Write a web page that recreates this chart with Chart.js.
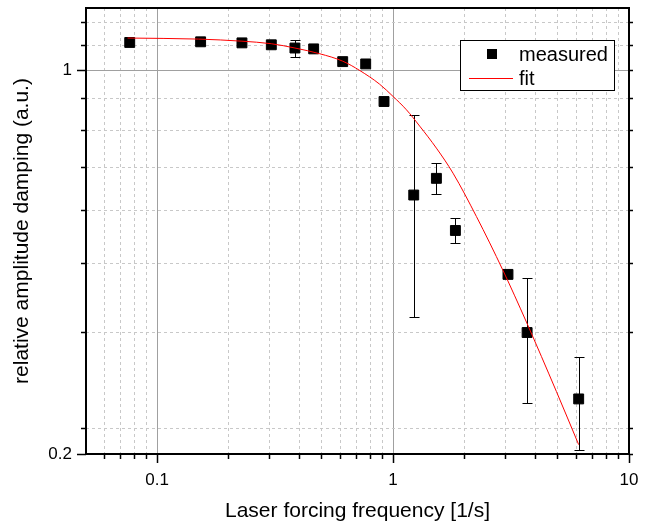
<!DOCTYPE html>
<html>
<head>
<meta charset="utf-8">
<script src="https://cdn.jsdelivr.net/npm/chart.js@4/dist/chart.umd.min.js"></script>
<style>
  html, body { margin: 0; padding: 0; background: #fff; }
</style>
</head>
<body>
<canvas id="graphe" width="651" height="527"></canvas>
<script>
// Points mesurés (fréquence en 1/s, amplitude relative, barre d'erreur)
const frequences = [0.0766, 0.153, 0.229, 0.305, 0.384, 0.461, 0.612, 0.766, 0.916, 1.224, 1.527, 1.838, 3.07, 3.70, 6.12];
const amplitudes = [1.125, 1.128, 1.123, 1.114, 1.099, 1.095, 1.038, 1.028, 0.878, 0.593, 0.636, 0.511, 0.425, 0.333, 0.252];
const erreurs = [0, 0, 0, 0, 0.04, 0, 0, 0, 0, 0.237, 0.041, 0.027, 0, 0.085, 0.049];

// Courbe d'ajustement
const fitFreq = [0.075, 0.15, 0.229, 0.305, 0.384, 0.489, 0.612, 0.723, 0.878, 1.0, 1.14, 1.297, 1.527, 1.796, 2.256, 2.925, 3.675, 4.924, 6.12];
const fitAmp = [1.146, 1.141, 1.131, 1.119, 1.099, 1.073, 1.040, 1.000, 0.944, 0.897, 0.848, 0.792, 0.722, 0.650, 0.542, 0.432, 0.348, 0.260, 0.208];

// Graduations
const xMajeurs = [0.1, 1, 10];
const xMineurs = [0.06, 0.07, 0.08, 0.09, 0.2, 0.3, 0.4, 0.5, 0.6, 0.7, 0.8, 0.9, 2, 3, 4, 5, 6, 7, 8, 9];
const yMajeurs = [0.2, 1];
const yMineurs = [0.2222, 0.3333, 0.4444, 0.5556, 0.6667, 0.7778, 0.8889, 1.1111, 1.2222];

const police = "'Liberation Sans', Arial, sans-serif";

function fixeTicks(valeurs) {
    return function (scale) {
        scale.ticks = valeurs.map(v => ({ value: v }));
    };
}

// taille imposée des axes, sans marge de débordement des étiquettes
function taille(prop, val) {
    return function (s) {
        s[prop] = val;
        s.paddingTop = 0; s.paddingBottom = 0; s.paddingLeft = 0; s.paddingRight = 0;
    };
}

// barres d'erreur, cadre et légende
const decor = {
    id: 'decor',
    beforeDatasetsDraw(chart) {
        const { ctx, scales: { x, y } } = chart;
        ctx.save();
        ctx.strokeStyle = '#000';
        ctx.lineWidth = 1;
        frequences.forEach((f, i) => {
            if (!erreurs[i]) return;
            const px = Math.round(x.getPixelForValue(f)) + 0.5;
            const haut = Math.round(y.getPixelForValue(amplitudes[i] + erreurs[i])) + 0.5;
            const bas = Math.round(y.getPixelForValue(amplitudes[i] - erreurs[i])) + 0.5;
            ctx.beginPath();
            ctx.moveTo(px, haut); ctx.lineTo(px, bas);
            ctx.moveTo(px - 5, haut); ctx.lineTo(px + 5, haut);
            ctx.moveTo(px - 5, bas); ctx.lineTo(px + 5, bas);
            ctx.stroke();
        });
        ctx.restore();
    },
    afterDraw(chart) {
        const { ctx, chartArea: a } = chart;
        ctx.save();
        ctx.strokeStyle = '#000';
        ctx.lineWidth = 2;
        ctx.strokeRect(a.left, a.top, a.right - a.left, a.bottom - a.top);

        // légende
        ctx.lineWidth = 1;
        ctx.fillStyle = '#fff';
        ctx.fillRect(460.5, 40.5, 154, 50);
        ctx.strokeRect(460.5, 40.5, 154, 50);
        ctx.font = '20px ' + police;
        ctx.textBaseline = 'middle';
        const ds = chart.data.datasets;
        ctx.fillStyle = '#000';
        ctx.fillRect(487, 49, 10, 10);
        ctx.fillText(ds[0].label, 519, 55);
        ctx.strokeStyle = 'red';
        ctx.beginPath();
        ctx.moveTo(469, 78.5); ctx.lineTo(513, 78.5);
        ctx.stroke();
        ctx.fillStyle = '#000';
        ctx.fillText(ds[1].label, 519, 79);
        ctx.restore();
    }
};

let ctx = document.getElementById('graphe').getContext('2d');
let chart = new Chart(ctx, {
    type: 'scatter',
    data: {
        datasets: [{
            label: 'measured',
            data: frequences.map((f, i) => ({ x: f, y: amplitudes[i] })),
            pointStyle: 'rect',
            pointRadius: 7,
            pointHoverRadius: 7,
            backgroundColor: '#000',
            borderColor: '#000',
            borderWidth: 1,
            order: 1
        }, {
            label: 'fit',
            type: 'line',
            data: fitFreq.map((f, i) => ({ x: f, y: fitAmp[i] })),
            borderColor: 'red',
            borderWidth: 1,
            pointRadius: 0,
            fill: false,
            cubicInterpolationMode: 'monotone',
            order: 0
        }]
    },
    options: {
        responsive: false,
        animation: false,
        devicePixelRatio: 1,
        layout: { padding: { top: 8, left: 0, right: 0, bottom: 0 } },
        plugins: { legend: { display: false }, tooltip: { enabled: false } },
        scales: {
            x: {
                type: 'logarithmic', position: 'bottom', min: 0.05, max: 10, weight: 1,
                afterBuildTicks: fixeTicks(xMajeurs),
                afterFit: taille('height', 73),
                grid: { color: '#a0a0a0', lineWidth: 1, tickLength: 9, tickColor: '#000', tickWidth: 1.5 },
                border: { display: false },
                ticks: { autoSkip: false, maxRotation: 0, padding: 7, color: '#000',
                    font: { family: police, size: 17 }, callback: v => String(v) },
                title: { display: true, text: 'Laser forcing frequency [1/s]', color: '#000',
                    font: { family: police, size: 21 }, padding: { top: 0, bottom: 3 } }
            },
            xm: {
                type: 'logarithmic', position: 'bottom', min: 0.05, max: 10, weight: 0,
                afterBuildTicks: fixeTicks(xMineurs),
                afterFit: taille('height', 0),
                grid: { color: '#c8c8c8', lineWidth: 1, tickLength: 5, tickColor: '#000', tickWidth: 1.5 },
                border: { display: false, dash: [3, 3] },
                ticks: { display: false }
            },
            y: {
                type: 'logarithmic', position: 'left', min: 0.2, max: 1.3, weight: 1,
                afterBuildTicks: fixeTicks(yMajeurs),
                afterFit: taille('width', 86),
                grid: { color: '#a0a0a0', lineWidth: 1, tickLength: 9, tickColor: '#000', tickWidth: 1.5 },
                border: { display: false },
                ticks: { autoSkip: false, padding: 5, color: '#000',
                    font: { family: police, size: 17 }, callback: v => String(v) },
                title: { display: true, text: 'relative amplitude damping (a.u.)', color: '#000',
                    font: { family: police, size: 21 }, padding: { top: 10, bottom: 0 } }
            },
            ym: {
                type: 'logarithmic', position: 'left', min: 0.2, max: 1.3, weight: 0,
                afterBuildTicks: fixeTicks(yMineurs),
                afterFit: taille('width', 0),
                grid: { color: '#c8c8c8', lineWidth: 1, tickLength: 5, tickColor: '#000', tickWidth: 1.5 },
                border: { display: false, dash: [3, 3] },
                ticks: { display: false }
            },
            yr: {
                type: 'logarithmic', position: 'right', min: 0.2, max: 1.3,
                afterBuildTicks: fixeTicks(yMineurs.concat(yMajeurs)),
                afterFit: taille('width', 22),
                grid: { drawOnChartArea: false, tickLength: 4, tickColor: '#000', tickWidth: 1.5 },
                border: { display: false },
                ticks: { display: false }
            }
        }
    },
    plugins: [decor]
});
</script>
</body>
</html>
